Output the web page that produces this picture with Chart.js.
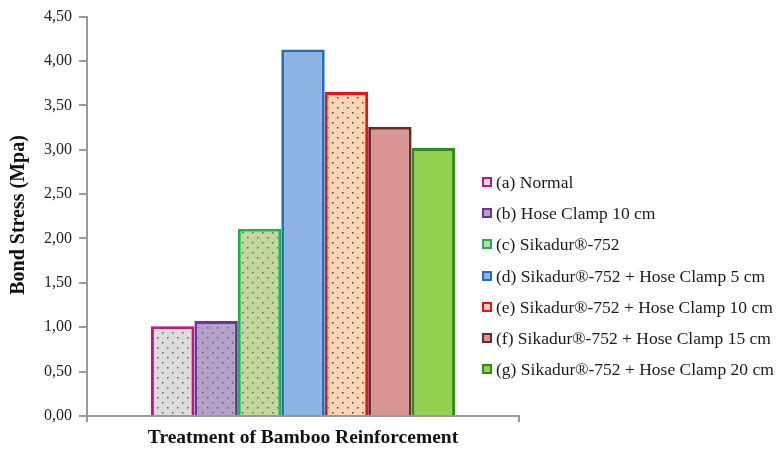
<!DOCTYPE html>
<html>
<head>
<meta charset="utf-8">
<script src="https://cdn.jsdelivr.net/npm/chart.js@4"></script>
<style>
  html,body{margin:0;padding:0;background:#fff;}
  #wrap{position:relative;width:782px;height:454px;}
  #legend{position:absolute;left:482px;top:166px;font-family:"Liberation Serif","Times New Roman",serif;font-size:17.5px;color:#1a1a1a;}
  .li{height:31.3px;display:flex;align-items:center;white-space:nowrap;line-height:24px;}
  .sw{width:6px;height:6px;border:2.5px solid;margin-right:4px;flex:none;}
</style>
</head>
<body>
<div id="wrap">
<canvas id="c" width="782" height="454"></canvas>
<div id="legend"></div>
</div>
<script>
const categories = [''];
const seriesNames = [
  '(a) Normal',
  '(b) Hose Clamp 10 cm',
  '(c) Sikadur®-752',
  '(d) Sikadur®-752 + Hose Clamp 5 cm',
  '(e) Sikadur®-752 + Hose Clamp 10 cm',
  '(f) Sikadur®-752 + Hose Clamp 15 cm',
  '(g) Sikadur®-752 + Hose Clamp 20 cm'
];
const bondStress = [1.01, 1.07, 2.11, 4.13, 3.65, 3.26, 3.02];
const yTickLabels = ['0,00','0,50','1,00','1,50','2,00','2,50','3,00','3,50','4,00','4,50'];
const xTitle = 'Treatment of Bamboo Reinforcement';
const yTitle = 'Bond Stress (Mpa)';

const borderColors = ['#c0187c','#7030a0','#1fb050','#1f6fc0','#f01010','#6b2a28','#2e8b1e'];
const fillColors   = ['#dcdcdc','#b3a2c7','#c3d69b','#8db3e2','#fcd5b4','#d99594','#92d050'];
const dotColors    = ['#4c7050','#6a5a8a','#4f7a55',null,'#5a3a2a',null,null];

function makeFill(bg, dot){
  if(!dot) return bg;
  const p = document.createElement('canvas');
  p.width = 10; p.height = 10;
  const g = p.getContext('2d');
  g.fillStyle = bg; g.fillRect(0,0,10,10);
  g.fillStyle = dot;
  g.fillRect(2,2,1.5,1.5);
  g.fillRect(7,7,1.5,1.5);
  return g.createPattern(p,'repeat');
}

const datasets = seriesNames.map((n,i)=>({
  label: n,
  data: [bondStress[i]],
  backgroundColor: makeFill(fillColors[i], dotColors[i]),
  borderColor: borderColors[i],
  borderWidth: 3,
  borderSkipped: 'bottom',
  barPercentage: 1,
  categoryPercentage: 0.704
}));

const leg = document.getElementById('legend');
seriesNames.forEach((n,i)=>{
  const d = document.createElement('div'); d.className='li';
  const s = document.createElement('span'); s.className='sw';
  s.style.borderColor = borderColors[i]; s.style.background = fillColors[i];
  const t = document.createElement('span'); t.textContent = n;
  d.appendChild(s); d.appendChild(t); leg.appendChild(d);
});

const yTitlePlugin = {
  id:'yTitle',
  afterDraw(chart){
    const ctx = chart.ctx;
    ctx.save();
    ctx.translate(19, 215);
    ctx.rotate(-Math.PI/2);
    ctx.font = 'bold 20px "Liberation Serif", serif';
    ctx.fillStyle = '#111';
    ctx.textAlign = 'center';
    ctx.textBaseline = 'middle';
    ctx.fillText(yTitle, 0, 0);
    ctx.restore();
  }
};

new Chart(document.getElementById('c'), {
  type: 'bar',
  data: { labels: categories, datasets },
  plugins: [yTitlePlugin],
  options: {
    responsive: false,
    animation: false,
    layout: { padding: { left: 0, right: 263, top: 15, bottom: 0 } },
    plugins: { legend: { display: false }, tooltip: { enabled: false } },
    scales: {
      x: {
        offset: true,
        grid: { display: true, drawOnChartArea: false, drawTicks: true, tickLength: 6, color: '#999', lineWidth: 2, offset: true },
        border: { display: true, color: '#999', width: 2 },
        ticks: { display: true, font: { size: 1 }, color: 'rgba(0,0,0,0)' },
        title: { display: true, text: xTitle, color: '#111', font: { family: '"Liberation Serif", serif', size: 19.5, weight: 'bold' }, padding: { top: 0, bottom: 4 } },
        afterFit(s){ s.height = 38; }
      },
      y: {
        min: 0, max: 4.5,
        ticks: { stepSize: 0.5, color: '#222', padding: 7,
          font: { family: '"Liberation Serif", serif', size: 16 },
          callback: (v, i) => yTickLabels[i] },
        grid: { drawOnChartArea: false, drawTicks: true, tickLength: 8, color: '#999', lineWidth: 2 },
        border: { display: true, color: '#999', width: 2 },
        afterFit(s){ s.width = 87; }
      }
    }
  }
});
</script>
</body>
</html>
